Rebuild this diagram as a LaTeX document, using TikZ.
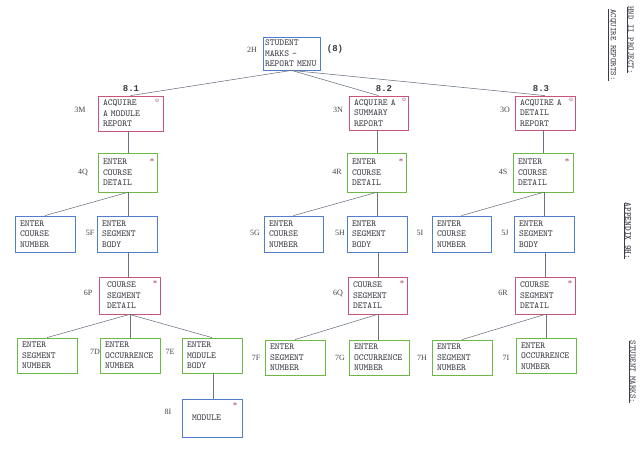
\documentclass[tikz,border=0pt]{standalone}
\usepackage{fontspec}
\setmainfont{Liberation Serif}
\newfontfamily\monofont{Liberation Mono}
\definecolor{bxblue}{RGB}{80,125,205}
\definecolor{bxred}{RGB}{200,85,120}
\definecolor{bxgreen}{RGB}{110,185,70}
\definecolor{bxtext}{RGB}{60,60,70}
\definecolor{lbltext}{RGB}{70,70,70}
\definecolor{linecol}{RGB}{105,115,130}
\begin{document}
\begin{tikzpicture}[x=1pt,y=-1pt,
  bx/.style={draw, line width=0.8pt, inner xsep=5pt, inner ysep=0pt, align=left,
    font=\ttfamily\fontsize{9.2}{10.5}\selectfont, text=bxtext},
  bluebx/.style={bx, draw=bxblue},
  redbx/.style={bx, draw=bxred},
  greenbx/.style={bx, draw=bxgreen},
  lbl/.style={font=\fontsize{8}{9}\selectfont, text=lbltext, inner sep=0pt},
  sect/.style={font=\monofont\bfseries\fontsize{9}{10}\selectfont, text=bxtext, inner sep=0pt},
  starmark/.style={font=\fontsize{9}{9}\selectfont, text=bxred!80!black, inner sep=0pt},
  side/.style={font=\ttfamily\fontsize{8.5}{9}\selectfont, text=bxtext, rotate=-90, inner sep=0pt},
  conn/.style={draw=linecol, line width=0.55pt}]
\useasboundingbox[fill=white] (0,0) rectangle (640,461);

% ---- level 2
\node[bluebx, inner xsep=2pt, minimum width=57pt, minimum height=33pt, text width=53pt] (n2H) at (291.5,53.5) {STUDENT\\MARKS -\\REPORT MENU};
\node[lbl] (l2H) at (252,50) {2H};
\node[sect] (p8) at (335,49) {(8)};

% ---- level 3
\node[redbx, minimum width=65pt, minimum height=35pt, text width=55pt] (n3M) at (130.5,113.5) {ACQUIRE\\A MODULE\\REPORT};
\node[redbx, minimum width=59pt, minimum height=34pt, text width=49pt] (n3N) at (378.5,113) {ACQUIRE A\\SUMMARY\\REPORT};
\node[redbx, minimum width=60pt, minimum height=34pt, text width=50pt] (n3O) at (545,113) {ACQUIRE A\\DETAIL\\REPORT};
\node[lbl] (l3M) at (80,110) {3M};
\node[lbl] (l3N) at (338,110) {3N};
\node[lbl] (l3O) at (505,110) {3O};
\node[sect] (s81) at (131,89) {8.1};
\node[sect] (s82) at (384,89) {8.2};
\node[sect] (s83) at (541,89) {8.3};
\node[starmark, font=\fontsize{7}{8}\selectfont] (o3M) at (157,101) {o};
\node[starmark, font=\fontsize{7}{8}\selectfont] (o3N) at (404,100) {o};
\node[starmark, font=\fontsize{7}{8}\selectfont] (o3O) at (571,100) {o};

% ---- level 4
\node[greenbx, minimum width=59pt, minimum height=39pt, text width=49pt] (n4Q) at (127.5,172.5) {ENTER\\COURSE\\DETAIL};
\node[greenbx, minimum width=59pt, minimum height=39pt, text width=49pt] (n4R) at (376.5,172.5) {ENTER\\COURSE\\DETAIL};
\node[greenbx, minimum width=60pt, minimum height=39pt, text width=50pt] (n4S) at (543,172.5) {ENTER\\COURSE\\DETAIL};
\node[lbl] (l4Q) at (83,172) {4Q};
\node[lbl] (l4R) at (337,172) {4R};
\node[lbl] (l4S) at (503,172) {4S};
\node[starmark] (a4Q) at (152,162) {*};
\node[starmark] (a4R) at (401,162) {*};
\node[starmark] (a4S) at (567,162) {*};

% ---- level 5
\node[bluebx, minimum width=60pt, minimum height=36pt, text width=50pt] (n5a) at (45,234) {ENTER\\COURSE\\NUMBER};
\node[bluebx, minimum width=60pt, minimum height=36pt, text width=50pt] (n5F) at (127,234) {ENTER\\SEGMENT\\BODY};
\node[bluebx, minimum width=59pt, minimum height=36pt, text width=49pt] (n5G) at (293.5,234) {ENTER\\COURSE\\NUMBER};
\node[bluebx, minimum width=60pt, minimum height=36pt, text width=50pt] (n5H) at (377,234) {ENTER\\SEGMENT\\BODY};
\node[bluebx, minimum width=59pt, minimum height=36pt, text width=49pt] (n5I) at (461.5,234) {ENTER\\COURSE\\NUMBER};
\node[bluebx, minimum width=60pt, minimum height=36pt, text width=50pt] (n5J) at (544,234) {ENTER\\SEGMENT\\BODY};
\node[lbl] (l5F) at (90,233) {5F};
\node[lbl] (l5G) at (255,233) {5G};
\node[lbl] (l5H) at (340,233) {5H};
\node[lbl] (l5I) at (420,233) {5I};
\node[lbl] (l5J) at (505,233) {5J};

% ---- level 6
\node[redbx, inner xsep=8pt, minimum width=61pt, minimum height=37pt, text width=45pt] (n6P) at (129.5,295.5) {COURSE\\SEGMENT\\DETAIL};
\node[redbx, minimum width=59pt, minimum height=37pt, text width=49pt] (n6Q) at (377.5,295.5) {COURSE\\SEGMENT\\DETAIL};
\node[redbx, minimum width=60pt, minimum height=37pt, text width=50pt] (n6R) at (545,295.5) {COURSE\\SEGMENT\\DETAIL};
\node[lbl] (l6P) at (88,293) {6P};
\node[lbl] (l6Q) at (338,293) {6Q};
\node[lbl] (l6R) at (503,293) {6R};
\node[starmark] (a6P) at (155,284) {*};
\node[starmark] (a6Q) at (402,284) {*};
\node[starmark] (a6R) at (570,284) {*};

% ---- level 7
\node[greenbx, minimum width=60pt, minimum height=35pt, text width=50pt] (n7a) at (47,355.5) {ENTER\\SEGMENT\\NUMBER};
\node[greenbx, minimum width=60pt, minimum height=35pt, text width=50pt] (n7D) at (130,355.5) {ENTER\\OCCURRENCE\\NUMBER};
\node[greenbx, minimum width=60pt, minimum height=35pt, text width=50pt] (n7E) at (212,355.5) {ENTER\\MODULE\\BODY};
\node[greenbx, minimum width=60pt, minimum height=35pt, text width=50pt] (n7F) at (295,357.5) {ENTER\\SEGMENT\\NUMBER};
\node[greenbx, minimum width=60pt, minimum height=35pt, text width=50pt] (n7G) at (379,357.5) {ENTER\\OCCURRENCE\\NUMBER};
\node[greenbx, minimum width=60pt, minimum height=35pt, text width=50pt] (n7H) at (462,357.5) {ENTER\\SEGMENT\\NUMBER};
\node[greenbx, minimum width=60pt, minimum height=35pt, text width=50pt] (n7I) at (546,356) {ENTER\\OCCURRENCE\\NUMBER};
\node[lbl] (l7D) at (95,352) {7D};
\node[lbl] (l7E) at (170,352) {7E};
\node[lbl] (l7F) at (256,358) {7F};
\node[lbl] (l7G) at (340,358) {7G};
\node[lbl] (l7H) at (422,358) {7H};
\node[lbl] (l7I) at (506,358) {7I};

% ---- level 8
\node[bluebx, inner xsep=10pt, minimum width=60pt, minimum height=38pt, text width=40pt] (n8I) at (212,418) {MODULE};
\node[lbl] (l8I) at (168,412) {8I};
\node[starmark] (a8I) at (235,406) {*};

% ---- side captions
\node[side] (t1) at (630,40) {\underline{HND II PROJECT:}};
\node[side] (t2) at (612,45) {\underline{ACQUIRE REPORTS:}};
\node[side, font=\ttfamily\bfseries\fontsize{9}{9}\selectfont] (t3) at (627,231) {\underline{APPENDIX 9H:}};
\node[side] (t4) at (632,372) {\underline{STUDENT MARKS:}};

% ---- connectors
\path[conn] (n2H.south) -- (n3M.north);
\path[conn] (n2H.south) -- (n3N.north);
\path[conn] (n2H.south) -- (n3O.north);

\path[conn] (n4Q.north -| 128,0) -- (n3M.south -| 128,0);
\path[conn] (n4Q.south) -- (n5a.north);
\path[conn] (n4Q.south -| 128,0) -- (n5F.north -| 128,0);
\path[conn] (n5F.south -| 128,0) -- (n6P.north -| 128,0);
\path[conn] (n6P.south) -- (n7a.north);
\path[conn] (n6P.south -| 130,0) -- (n7D.north);
\path[conn] (n6P.south) -- (n7E.north);
\path[conn] (n7E.south -| 213,0) -- (n8I.north -| 213,0);

\path[conn] (n3N.south -| 377,0) -- (n4R.north -| 377,0);
\path[conn] (n4R.south) -- (n5G.north);
\path[conn] (n4R.south -| 377,0) -- (n5H.north -| 377,0);
\path[conn] (n5H.south -| 378,0) -- (n6Q.north -| 378,0);
\path[conn] (n6Q.south) -- (n7F.north);
\path[conn] (n6Q.south -| 378,0) -- (n7G.north -| 378,0);

\path[conn] (n3O.south -| 543,0) -- (n4S.north -| 543,0);
\path[conn] (n4S.south) -- (n5I.north);
\path[conn] (n4S.south -| 544,0) -- (n5J.north -| 544,0);
\path[conn] (n5J.south -| 545,0) -- (n6R.north -| 545,0);
\path[conn] (n6R.south) -- (n7H.north);
\path[conn] (n6R.south -| 546,0) -- (n7I.north -| 546,0);
\end{tikzpicture}
\end{document}
